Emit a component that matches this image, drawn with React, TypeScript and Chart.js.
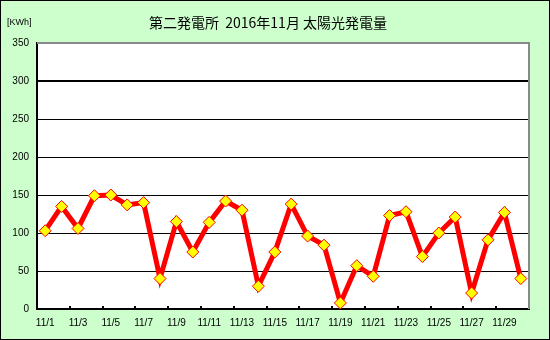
import React, { useEffect, useRef } from "react";
import { Chart, registerables } from "chart.js";

Chart.register(...registerables);

const categories = Array.from({ length: 30 }, (_, i) => `11/${i + 1}`);
const generation = [
  103, 135, 106, 149, 150, 137, 140, 40, 115, 75,
  114, 142, 130, 30, 75, 138, 96, 84, 8, 57,
  43, 123, 128, 69, 100, 121, 21, 91, 127, 40,
];
const titleText = "第二発電所  2016年11月 太陽光発電量";
const unitText = "[KWh]";

export default function App() {
  const ref = useRef<HTMLCanvasElement | null>(null);

  useEffect(() => {
    document.body.style.margin = "0";
    const canvas = ref.current!;
    const deco = {
      id: "deco",
      beforeDraw(chart: any) {
        const { ctx, chartArea: a } = chart;
        ctx.save();
        ctx.fillStyle = "#ccffcc";
        ctx.fillRect(0, 0, chart.width, chart.height);
        ctx.fillStyle = "#ffffff";
        ctx.fillRect(a.left, a.top, a.right - a.left, a.bottom - a.top);
        ctx.strokeStyle = "#000";
        ctx.lineWidth = 1;
        ctx.strokeRect(0.5, 0.5, chart.width - 1, chart.height - 1);
        ctx.fillStyle = "#000";
        ctx.textBaseline = "middle";
        ctx.textAlign = "center";
        ctx.font = '14px "Noto Sans CJK JP"';
        ctx.fillText(titleText, 268, 23);
        ctx.textAlign = "left";
        ctx.font = '9px "Liberation Sans", "Noto Sans CJK JP"';
        ctx.fillText(unitText, 7, 23);
        ctx.restore();
      },
      beforeDatasetsDraw(chart: any) {
        const { ctx, chartArea: a, scales } = chart;
        ctx.save();
        ctx.strokeStyle = "#888888";
        ctx.lineWidth = 2;
        ctx.beginPath();
        ctx.moveTo(a.left, a.top);
        ctx.lineTo(a.right, a.top);
        ctx.lineTo(a.right, a.bottom);
        ctx.stroke();
        const x = scales.x;
        const half = (x.getPixelForValue(1) - x.getPixelForValue(0)) / 2;
        ctx.strokeStyle = "#000";
        ctx.lineWidth = 2;
        for (let i = 2; i < categories.length; i += 2) {
          const px = Math.round(x.getPixelForValue(i) - half);
          ctx.beginPath();
          ctx.moveTo(px, a.bottom);
          ctx.lineTo(px, a.bottom - 3);
          ctx.stroke();
        }
        ctx.restore();
      },
    };

    const chart = new Chart(canvas, {
      type: "line",
      data: {
        labels: categories,
        datasets: [
          {
            data: generation,
            borderColor: "#ff0000",
            borderWidth: 5,
            pointStyle: "rectRot",
            pointRadius: 6,
            pointBackgroundColor: "#ffff00",
            pointBorderColor: "#ff0000",
            pointBorderWidth: 1,
            tension: 0,
          },
        ],
      },
      plugins: [deco],
      options: {
        animation: false,
        responsive: false,
        events: [],
        layout: { padding: { left: 0, top: 43, right: 21, bottom: 0 } },
        plugins: { legend: { display: false }, tooltip: { enabled: false } },
        scales: {
          x: {
            offset: true,
            grid: { display: false, offset: true },
            border: { display: true, color: "#000", width: 2 },
            afterFit: (s: any) => {
              s.height = 31;
            },
            ticks: {
              autoSkip: false,
              maxRotation: 0,
              minRotation: 0,
              padding: 0,
              color: "#000",
              font: { family: "Liberation Sans", size: 10 },
              callback: (_v: any, i: number) => (i % 2 === 0 ? categories[i] : ""),
            },
          },
          y: {
            min: 0,
            max: 350,
            afterFit: (s: any) => {
              s.width = 37;
            },
            grid: {
              drawTicks: false,
              color: (c: any) =>
                c.tick && (c.tick.value === 0 || c.tick.value === 350) ? "rgba(0,0,0,0)" : "#000",
              lineWidth: (c: any) => (c.tick && c.tick.value === 300 ? 2 : 1),
            },
            border: { display: true, color: "#000", width: 2 },
            ticks: {
              stepSize: 50,
              padding: 8,
              color: "#000",
              font: { family: "Liberation Sans", size: 10 },
            },
          },
        },
      },
    });
    return () => chart.destroy();
  }, []);

  return <canvas ref={ref} width={550} height={340} style={{ display: "block" }} />;
}
